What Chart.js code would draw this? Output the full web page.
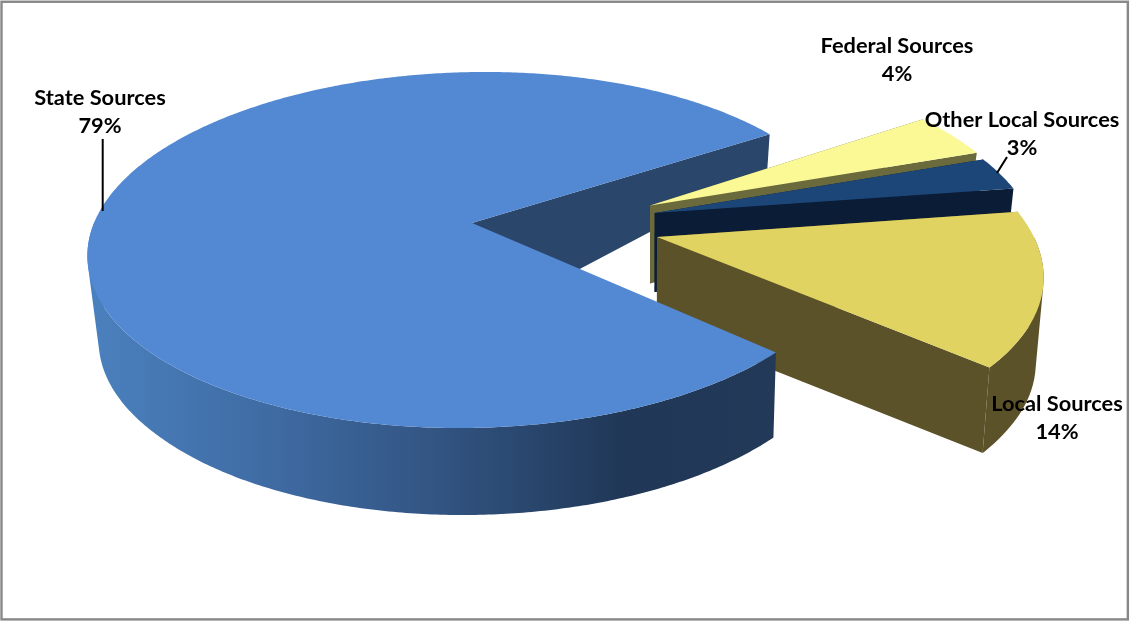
<!DOCTYPE html>
<html>
<head>
<meta charset="utf-8">
<style>
  html, body { margin: 0; padding: 0; background: #fff; }
  canvas { display: block; }
</style>
<script src="https://cdn.jsdelivr.net/npm/chart.js@4/dist/chart.umd.min.js"></script>
</head>
<body>
<canvas id="grafica" width="1131" height="621"></canvas>
<script>
// revenue shares
const categories = ['State Sources', 'Federal Sources', 'Other Local Sources', 'Local Sources'];
const percents = [79, 4, 3, 14];

const topColors = ['#5389d3', '#fbf896', '#1c4677', '#e0d362'];
const sideColors = ['#2b466b', '#6b6a3c', '#0b1c36', '#5c5229'];

// how far each slice is pulled out, as a fraction of the radius and a direction in degrees
const pullOut = [0, 0.489, 0.491, 0.490];
const pullDir = [0, -12, -6.8, 9.3];
// per slice rim size and sideways lean of the plane
const rimSize = [1, 1, 1, 0.985];
const lean = [13, 0, 0, 0];
// wall height under the centre point of each slice
const apexDrop = [101, 78, 79, 87];

// wall height along the rim, looked up by depth on the plane
const dropY = [-1, -0.55, -0.09, 0, 0.08, 0.66, 1];
const dropH = [20, 36, 78, 82, 85, 85, 87];

const labelPos = [[100, 97.5], [897, 45.5], [1022, 119.5], [1057, 403.5]];
const leaders = [[102.7, 139, 102.7, 211], null, [1007, 157, 997, 173], null];

// tilted plane: unit circle coords to screen
const CX = 472, R = 378, PA = 140.1, PB = 223, PC = -0.1517;

function project(x, y, k) {
    const den = 1 + PC * y;
    return [CX + R * x / den - k * y, (PA * y + PB) / den];
}

function dropAt(y) {
    if (y <= dropY[0]) return dropH[0];
    for (let i = 1; i < dropY.length; i++) {
        if (y <= dropY[i]) {
            const t = (y - dropY[i - 1]) / (dropY[i] - dropY[i - 1]);
            return dropH[i - 1] + t * (dropH[i] - dropH[i - 1]);
        }
    }
    return dropH[dropH.length - 1];
}

// same point on the lower face
function lower(x, y, drop, k) {
    const p = project(x, y, k);
    return [650 + (p[0] - 650) * 0.98, p[1] + drop];
}

function poly(ctx, pts, fill) {
    ctx.beginPath();
    pts.forEach(function (p, i) {
        if (i == 0) ctx.moveTo(p[0], p[1]); else ctx.lineTo(p[0], p[1]);
    });
    ctx.closePath();
    ctx.fillStyle = fill;
    ctx.fill();
}

function sliceShape(arc, i) {
    const dir = pullDir[i] * Math.PI / 180;
    const ox = pullOut[i] * Math.cos(dir);
    const oy = pullOut[i] * Math.sin(dir);
    const steps = Math.ceil((arc.endAngle - arc.startAngle) / 0.01);
    const rimTop = [], rimLow = [], facing = [];
    for (let s = 0; s <= steps; s++) {
        const a = arc.startAngle + (arc.endAngle - arc.startAngle) * s / steps;
        const x = ox + rimSize[i] * Math.cos(a);
        const y = oy + rimSize[i] * Math.sin(a);
        rimTop.push(project(x, y, lean[i]));
        rimLow.push(lower(x, y, dropAt(y), lean[i]));
        facing.push(Math.sin(a) > 0);
    }
    return {
        apexTop: project(ox, oy, lean[i]),
        apexLow: lower(ox, oy, apexDrop[i], lean[i]),
        rimTop: rimTop,
        rimLow: rimLow,
        facing: facing
    };
}

// curved wall, strips in one path so no seams show, only where it faces the viewer
function drawWall(ctx, sh, fill) {
    ctx.beginPath();
    for (let s = 0; s < sh.rimTop.length - 1; s++) {
        if (!sh.facing[s]) continue;
        let q = [sh.rimTop[s], sh.rimTop[s + 1], sh.rimLow[s + 1], sh.rimLow[s]];
        // every strip wound the same way, or the overlaps near the silhouette cancel out
        let area = 0;
        for (let n = 0; n < 4; n++) {
            const m = (n + 1) % 4;
            area += q[n][0] * q[m][1] - q[m][0] * q[n][1];
        }
        if (area < 0) q = q.reverse();
        ctx.moveTo(q[0][0], q[0][1]);
        ctx.lineTo(q[1][0], q[1][1]);
        ctx.lineTo(q[2][0], q[2][1]);
        ctx.lineTo(q[3][0], q[3][1]);
        ctx.closePath();
    }
    ctx.fillStyle = fill;
    ctx.fill();
}

const pie3d = {
    id: 'pie3d',
    // the flat arcs are replaced by the solid version below
    beforeDatasetsDraw: function () {
        return false;
    },
    afterDraw: function (chart) {
        const ctx = chart.ctx;
        const arcs = chart.getDatasetMeta(0).data;
        const shapes = arcs.map(sliceShape);
        const colors = chart.data.datasets[0].backgroundColor;
        const last = function (list) { return list[list.length - 1]; };

        ctx.save();
        ctx.strokeStyle = '#888888';
        ctx.lineWidth = 2.4;
        ctx.strokeRect(1.5, 1.75, 1126.35, 617.65);

        // back cut of the big slice goes first
        const st = shapes[0];
        poly(ctx, [st.apexTop, last(st.rimTop), last(st.rimLow), st.apexLow], sideColors[0]);

        // pulled out slices, far one to near one
        for (let i = 1; i < arcs.length; i++) {
            const sh = shapes[i];
            drawWall(ctx, sh, sideColors[i]);
            poly(ctx, [sh.apexTop, sh.rimTop[0], sh.rimLow[0], sh.apexLow], sideColors[i]);
            poly(ctx, [sh.apexTop, last(sh.rimTop), last(sh.rimLow), sh.apexLow], sideColors[i]);
            poly(ctx, [sh.apexTop].concat(sh.rimTop), colors[i]);
        }

        // front wall of the big slice with its shading
        const grad = ctx.createLinearGradient(95, 0, 775, 0);
        grad.addColorStop(0, '#4a80bd');
        grad.addColorStop(0.257, '#3f6ba3');
        grad.addColorStop(0.517, '#315380');
        grad.addColorStop(0.78, '#203757');
        grad.addColorStop(1, '#233958');
        drawWall(ctx, st, grad);
        poly(ctx, [st.apexTop].concat(st.rimTop), colors[0]);

        // labels and leader lines
        ctx.strokeStyle = '#000';
        ctx.lineWidth = 2;
        leaders.forEach(function (l) {
            if (!l) return;
            ctx.beginPath();
            ctx.moveTo(l[0], l[1]);
            ctx.lineTo(l[2], l[3]);
            ctx.stroke();
        });
        ctx.fillStyle = '#000';
        ctx.font = 'bold 21.8px Lato';
        ctx.textAlign = 'center';
        ctx.textBaseline = 'middle';
        categories.forEach(function (name, i) {
            ctx.fillText(name, labelPos[i][0], labelPos[i][1]);
            ctx.fillText(percents[i] + '%', labelPos[i][0], labelPos[i][1] + 28);
        });
        ctx.restore();
    }
};

const mychart = new Chart(document.getElementById('grafica'), {
    type: 'pie',
    data: {
        labels: categories,
        datasets: [{
            data: percents,
            backgroundColor: topColors,
            borderWidth: 0
        }]
    },
    options: {
        responsive: false,
        animation: false,
        rotation: 132,
        plugins: {
            legend: { display: false },
            tooltip: { enabled: false }
        }
    },
    plugins: [pie3d]
});
</script>
</body>
</html>
